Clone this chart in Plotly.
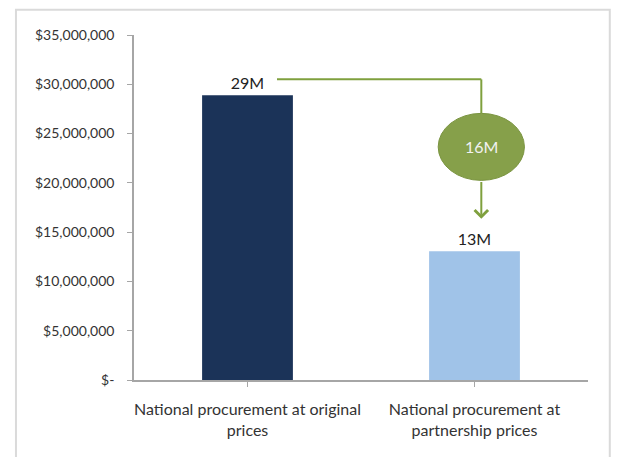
import plotly.graph_objects as go

categories = ["National procurement at original<br>prices",
              "National procurement at<br>partnership prices"]
values = [28.9e6, 13.05e6]
bar_colors = ["#1B3358", "#A0C3E8"]
tick_vals = [0, 5e6, 10e6, 15e6, 20e6, 25e6, 30e6, 35e6]
tick_text = ["$-", "$5,000,000", "$10,000,000", "$15,000,000", "$20,000,000",
             "$25,000,000", "$30,000,000", "$35,000,000"]
savings_label = "16M"

FONT = "Lato, Open Sans, sans-serif"
GREEN = "#7FA03E"

fig = go.Figure()
fig.add_trace(go.Bar(
    x=[0, 1], y=values, width=0.4,
    marker=dict(color=bar_colors, line=dict(width=0)),
    texttemplate="%{y:.2s}", textposition="outside",
    textfont=dict(family=FONT, size=16, color="#222222"),
    cliponaxis=False, hoverinfo="skip",
))

conn_y = values[0] + 1.6e6
ell_cx = 1.03
ell_y0 = values[1] + 7.2e6
ell_y1 = values[1] + 14.0e6
shapes = [
    dict(type="line", xref="x", yref="y", x0=0.13, x1=ell_cx, y0=conn_y, y1=conn_y,
         line=dict(color=GREEN, width=2)),
    dict(type="line", xref="x", yref="y", x0=ell_cx, x1=ell_cx, y0=conn_y, y1=ell_y1,
         line=dict(color=GREEN, width=2)),
    dict(type="circle", xref="x", yref="y", x0=ell_cx - 0.19, x1=ell_cx + 0.19,
         y0=ell_y0, y1=ell_y1, fillcolor="#86A04A", line=dict(color="#7A9440", width=1)),
    dict(type="rect", xref="paper", yref="paper", x0=-0.26, x1=1.048, y0=-0.4, y1=1.073,
         line=dict(color="#DADADA", width=2), fillcolor="rgba(0,0,0,0)", layer="below"),
]

annotations = [
    dict(x=ell_cx, y=(ell_y0 + ell_y1) / 2, xref="x", yref="y", text=savings_label,
         showarrow=False, font=dict(family=FONT, size=16, color="#F2F2F2")),
    dict(x=ell_cx, y=values[1] + 3.3e6, xref="x", yref="y",
         ax=ell_cx, ay=ell_y0, axref="x", ayref="y", text="",
         showarrow=True, arrowhead=4, arrowsize=1.3, arrowwidth=2, arrowcolor=GREEN),
]

fig.update_layout(
    width=623, height=457,
    margin=dict(l=126, r=43, t=27, b=85),
    paper_bgcolor="white", plot_bgcolor="white",
    showlegend=False, shapes=shapes, annotations=annotations,
    font=dict(family=FONT, size=14, color="#333333"),
)
fig.update_xaxes(
    range=[-0.5, 1.5], tickvals=[0, 1], ticktext=categories,
    showline=True, linecolor="#A6A6A6", linewidth=1.5,
    ticks="outside", ticklen=5, tickcolor="#A6A6A6", tickson="boundaries",
    showgrid=False, zeroline=False, ticklabelstandoff=9,
    tickfont=dict(family=FONT, size=16, color="#333333"),
)
fig.update_yaxes(
    range=[0, 35e6], tickvals=tick_vals, ticktext=tick_text,
    showline=True, linecolor="#A6A6A6", linewidth=1.5,
    ticks="outside", ticklen=5, tickcolor="#A6A6A6",
    showgrid=False, zeroline=False, ticklabelstandoff=10,
    tickfont=dict(family=FONT, size=14, color="#333333"),
)

fig.write_html("out.html")
